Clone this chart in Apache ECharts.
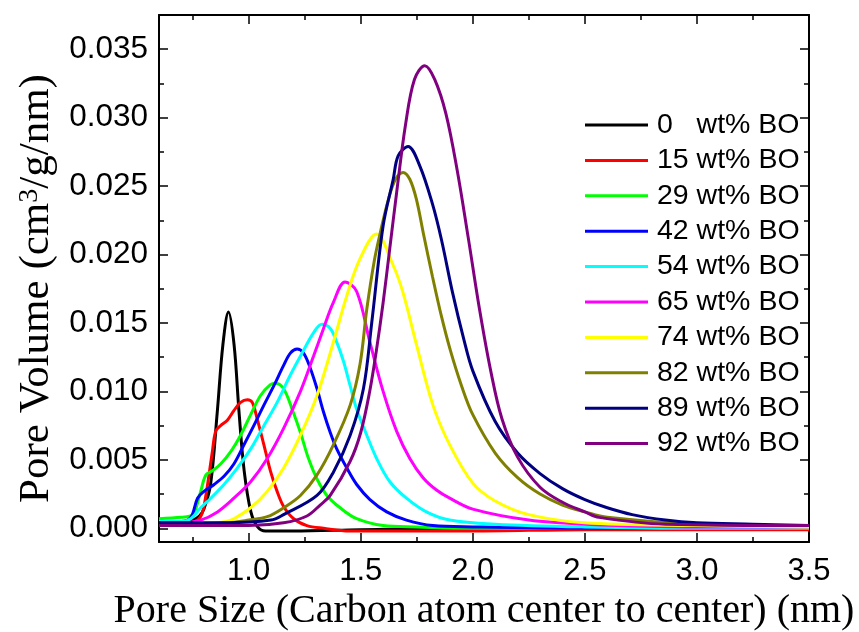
<!DOCTYPE html>
<html>
<head>
<meta charset="utf-8">
<script src="https://cdn.jsdelivr.net/npm/echarts@6/dist/echarts.min.js"></script>
<style>
html,body{margin:0;padding:0;background:#fff;}
#chart{width:859px;height:632px;}
</style>
</head>
<body>
<div id="chart"></div>
<script>
// ---- data ----
const seriesNames = ['0   wt% BO','15 wt% BO','29 wt% BO','42 wt% BO','54 wt% BO','65 wt% BO','74 wt% BO','82 wt% BO','89 wt% BO','92 wt% BO'];
const xTickValues = [1.0, 1.5, 2.0, 2.5, 3.0, 3.5];
const xMinorTickValues = [0.75, 1.25, 1.75, 2.25, 2.75, 3.25];
const yTickValues = [0, 0.005, 0.010, 0.015, 0.020, 0.025, 0.030, 0.035];
const yMinorTickValues = [0.0025, 0.0075, 0.0125, 0.0175, 0.0225, 0.0275, 0.0325];

const x_bo0 = [0.60, 0.70, 0.75, 0.78, 0.80, 0.83, 0.86, 0.885, 0.91, 0.935, 0.957, 0.98, 1.01, 1.04, 1.075, 1.2, 1.5, 2.0, 2.5, 3.0, 3.5];
const y_bo0 = [0.0005, 0.0005, 0.0006, 0.0009, 0.0014, 0.0032, 0.0085, 0.0134, 0.0158, 0.0134, 0.0085, 0.0042, 0.0012, 0.0001, -0.0002, -0.0002, -0.0001, 0.0000, 0.0000, 0.0000, 0.0000];

const x_bo15 = [0.60, 0.70, 0.76, 0.79, 0.809, 0.838, 0.853, 0.875, 0.905, 0.934, 0.964, 0.994, 1.016, 1.038, 1.068, 1.097, 1.127, 1.156, 1.201, 1.26, 1.334, 1.45, 1.7, 2.0, 2.5, 3.0, 3.5];
const y_bo15 = [0.0004, 0.0004, 0.0005, 0.0010, 0.0024, 0.0056, 0.0071, 0.0075, 0.0079, 0.0086, 0.0092, 0.0094, 0.0092, 0.0080, 0.0061, 0.0042, 0.0027, 0.0016, 0.0007, 0.0002, 0.0000, -0.0002, -0.0002, -0.0002, -0.0001, -0.0001, -0.0001];

const x_bo29 = [0.60, 0.70, 0.74, 0.757, 0.786, 0.809, 0.838, 0.875, 0.920, 0.964, 1.009, 1.053, 1.097, 1.120, 1.156, 1.194, 1.231, 1.267, 1.305, 1.349, 1.408, 1.482, 1.600, 1.749, 2.0, 2.5, 3.0, 3.5];
const y_bo29 = [0.0007, 0.0008, 0.0009, 0.0011, 0.0027, 0.0039, 0.0042, 0.0047, 0.0056, 0.0068, 0.0083, 0.0097, 0.0105, 0.0106, 0.0102, 0.0087, 0.0070, 0.0051, 0.0036, 0.0024, 0.0015, 0.0007, 0.0002, 0.0001, 0.0000, 0.0000, 0.0000, 0.0000];

const x_bo42 = [0.60, 0.70, 0.742, 0.772, 0.801, 0.846, 0.890, 0.934, 0.979, 1.023, 1.068, 1.112, 1.156, 1.186, 1.216, 1.245, 1.275, 1.305, 1.334, 1.364, 1.393, 1.438, 1.482, 1.541, 1.616, 1.704, 1.822, 2.0, 2.5, 3.0, 3.5];
const y_bo42 = [0.0005, 0.0005, 0.0008, 0.0022, 0.0027, 0.0032, 0.0038, 0.0047, 0.0061, 0.0075, 0.0090, 0.0104, 0.0119, 0.0128, 0.0131, 0.0128, 0.0117, 0.0102, 0.0085, 0.0070, 0.0058, 0.0044, 0.0032, 0.0021, 0.0012, 0.0006, 0.0002, 0.0001, 0.0000, 0.0000, 0.0000];

const x_bo54 = [0.60, 0.70, 0.742, 0.786, 0.831, 0.890, 0.949, 1.009, 1.068, 1.127, 1.186, 1.245, 1.290, 1.327, 1.364, 1.393, 1.423, 1.453, 1.482, 1.527, 1.571, 1.630, 1.704, 1.793, 1.897, 2.1, 2.5, 3.0, 3.5];
const y_bo54 = [0.0005, 0.0005, 0.0007, 0.0015, 0.0022, 0.0032, 0.0044, 0.0058, 0.0075, 0.0092, 0.0112, 0.0130, 0.0143, 0.0149, 0.0146, 0.0136, 0.0122, 0.0104, 0.0087, 0.0068, 0.0051, 0.0034, 0.0022, 0.0012, 0.0006, 0.0003, 0.0001, 0.0000, 0.0000];

const x_bo65 = [0.60, 0.70, 0.786, 0.861, 0.934, 1.009, 1.083, 1.156, 1.231, 1.290, 1.334, 1.378, 1.430, 1.482, 1.541, 1.600, 1.660, 1.719, 1.778, 1.838, 1.897, 2.0, 2.25, 2.5, 3.0, 3.5];
const y_bo65 = [0.0004, 0.0004, 0.0006, 0.0012, 0.0022, 0.0034, 0.0051, 0.0073, 0.0100, 0.0126, 0.0146, 0.0165, 0.0180, 0.0173, 0.0136, 0.0100, 0.0071, 0.0051, 0.0037, 0.0028, 0.0022, 0.0014, 0.0006, 0.0003, 0.0001, 0.0001];

const x_bo74 = [0.60, 0.80, 0.90, 0.934, 1.009, 1.083, 1.156, 1.231, 1.305, 1.378, 1.438, 1.497, 1.570, 1.645, 1.689, 1.749, 1.822, 1.897, 2.0, 2.1, 2.25, 2.5, 3.0, 3.5];
const y_bo74 = [0.0003, 0.0003, 0.0005, 0.0007, 0.0015, 0.0027, 0.0044, 0.0068, 0.0097, 0.0136, 0.0170, 0.0197, 0.0215, 0.0192, 0.0172, 0.0134, 0.0090, 0.0061, 0.0033, 0.0020, 0.0010, 0.0004, 0.0002, 0.0001];

const x_bo82 = [0.60, 0.90, 1.0, 1.083, 1.156, 1.231, 1.305, 1.378, 1.453, 1.497, 1.527, 1.560, 1.586, 1.623, 1.655, 1.689, 1.719, 1.749, 1.78, 1.82, 1.86, 1.90, 1.95, 2.0, 2.1, 2.2, 2.3, 2.4, 2.5, 2.6, 3.0, 3.5];
const y_bo82 = [0.0003, 0.0004, 0.0006, 0.00085, 0.0015, 0.0024, 0.0039, 0.0061, 0.0090, 0.0120, 0.0160, 0.0195, 0.0215, 0.0240, 0.0255, 0.0260, 0.0255, 0.0240, 0.0215, 0.0184, 0.0155, 0.0130, 0.0104, 0.0083, 0.0055, 0.0037, 0.0025, 0.0017, 0.0012, 0.0008, 0.0003, 0.0002];

const x_bo89 = [0.60, 0.90, 1.1, 1.156, 1.305, 1.378, 1.453, 1.512, 1.549, 1.600, 1.645, 1.667, 1.711, 1.763, 1.82, 1.86, 1.91, 1.96, 2.0, 2.1, 2.2, 2.3, 2.4, 2.5, 2.6, 2.711, 2.859, 3.0, 3.25, 3.5];
const y_bo89 = [0.0004, 0.0004, 0.0006, 0.0010, 0.0024, 0.0041, 0.0068, 0.0102, 0.0150, 0.0221, 0.0255, 0.0272, 0.0279, 0.0265, 0.0237, 0.0211, 0.0172, 0.0138, 0.0115, 0.0078, 0.0055, 0.0040, 0.0029, 0.0021, 0.0015, 0.0010, 0.0006, 0.0004, 0.0003, 0.0002];

const x_bo92 = [0.60, 1.0, 1.156, 1.26, 1.319, 1.364, 1.453, 1.50, 1.54, 1.57, 1.60, 1.63, 1.66, 1.70, 1.74, 1.786, 1.83, 1.88, 1.93, 1.98, 2.03, 2.08, 2.13, 2.2, 2.3, 2.4, 2.5, 2.563, 2.859, 3.5];
const y_bo92 = [0.0002, 0.0002, 0.0004, 0.0009, 0.0017, 0.0024, 0.0049, 0.0070, 0.0100, 0.0130, 0.0165, 0.0205, 0.0245, 0.0295, 0.0328, 0.0338, 0.0328, 0.0303, 0.0262, 0.0212, 0.0160, 0.0115, 0.0080, 0.0052, 0.0030, 0.0019, 0.0012, 0.0008, 0.0003, 0.0002];

const xValues = [x_bo0, x_bo15, x_bo29, x_bo42, x_bo54, x_bo65, x_bo74, x_bo82, x_bo89, x_bo92];
const yValues = [y_bo0, y_bo15, y_bo29, y_bo42, y_bo54, y_bo65, y_bo74, y_bo82, y_bo89, y_bo92];

// ---- styles ----
const colors = ['#000000','#ff0000','#00ff00','#0000ff','#00ffff','#ff00ff','#ffff00','#808000','#000080','#800080'];
const sansFont = '"Liberation Sans", Arial, sans-serif';
const serifFont = '"Liberation Serif", "Times New Roman", serif';

const X_MIN = 0.6, X_MAX = 3.5, Y_MIN = -0.001, Y_MAX = 0.0375;
const lineStyleAxis = {color:'#000', width:2};

function xAxisDef(pos, major, showLine, showLabel, name) {
  const a = {
    type:'value', position:pos, min:X_MIN, max:X_MAX,
    axisLine:{show:showLine, onZero:false, lineStyle:lineStyleAxis},
    axisTick:{show:true, inside:true, length: major ? 9 : 5, lineStyle:{color:'#000', width:1.5},
      customValues: major ? xTickValues : xMinorTickValues},
    axisLabel:{show:showLabel, customValues:xTickValues, color:'#000', fontSize:31, fontFamily:sansFont, margin:14,
      formatter: v => v.toFixed(1)},
    splitLine:{show:false}
  };
  if (name) {
    a.name = name; a.nameLocation = 'middle'; a.nameGap = 45;
    a.nameTextStyle = {color:'#000', fontSize:40, fontFamily:serifFont};
  }
  return a;
}
function yAxisDef(pos, major, showLine, showLabel, withName) {
  const a = {
    type:'value', position:pos, min:Y_MIN, max:Y_MAX,
    axisLine:{show:showLine, onZero:false, lineStyle:lineStyleAxis},
    axisTick:{show:true, inside:true, length: major ? 9 : 5, lineStyle:{color:'#000', width:1.5},
      customValues: major ? yTickValues : yMinorTickValues},
    axisLabel:{show:showLabel, customValues:yTickValues, color:'#000', fontSize:31.5, fontFamily:sansFont, margin:11,
      formatter: v => v.toFixed(3)},
    splitLine:{show:false}
  };
  if (withName) {
    a.name = 'Pore Volume (cm{sup|3}/g/nm)';
    a.nameLocation = 'middle'; a.nameGap = 100; a.nameRotate = 90;
    a.nameTextStyle = {color:'#000', fontSize:43, fontFamily:serifFont, lineHeight:43, padding:[0,20,0,0],
      rich:{sup:{fontSize:28, fontFamily:serifFont, color:'#000', verticalAlign:'top', lineHeight:43}}};
  }
  return a;
}

const series = seriesNames.map((n, i) => ({
  name:n, type:'line', xAxisIndex:0, yAxisIndex:0,
  data: xValues[i].map((x, k) => [x, yValues[i][k]]),
  showSymbol:false, symbol:'none', smooth:0.35,
  lineStyle:{color:colors[i], width:3}, itemStyle:{color:colors[i]},
  animation:false, z: 2 + i
}));

const chart = echarts.init(document.getElementById('chart'), null, {renderer:'canvas'});
chart.setOption({
  backgroundColor:'#fff',
  animation:false,
  grid:{left:159, right:50, top:15, bottom:90, containLabel:false, outerBoundsMode:'none'},
  xAxis:[
    xAxisDef('bottom', true, true, true, 'Pore Size (Carbon atom center to center) (nm)'),
    xAxisDef('bottom', false, false, false),
    xAxisDef('top', true, true, false),
    xAxisDef('top', false, false, false)
  ],
  yAxis:[
    yAxisDef('left', true, true, true, true),
    yAxisDef('left', false, false, false, false),
    yAxisDef('right', true, true, false, false),
    yAxisDef('right', false, false, false, false)
  ],
  legend:{
    show:true, orient:'vertical', left:580, top:105,
    icon:'rect', itemWidth:63, itemHeight:3, itemGap:5.4,
    textStyle:{color:'#000', fontSize:28.5, fontFamily:sansFont, lineHeight:30, padding:[0,0,0,4]},
    data: seriesNames
  },
  series: series
});
</script>
</body>
</html>
